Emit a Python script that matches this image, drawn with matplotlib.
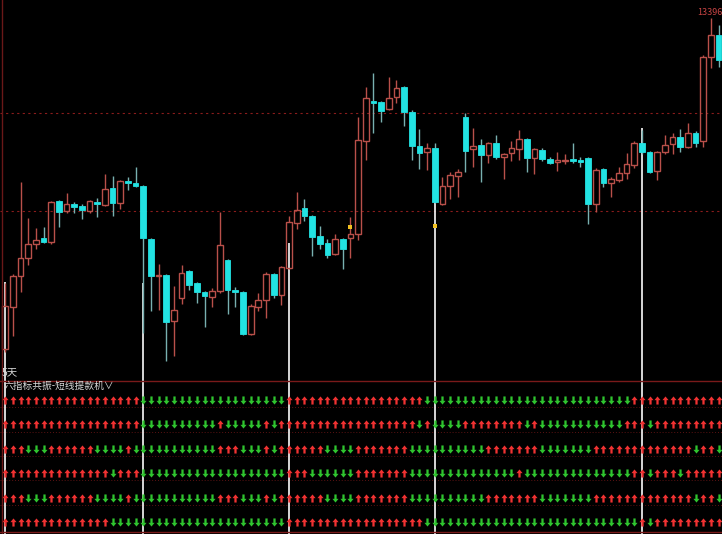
import matplotlib.pyplot as plt
import numpy as np
from matplotlib.path import Path
from matplotlib.lines import Line2D

plt.rcParams['font.family'] = ['Noto Sans CJK SC', 'DejaVu Sans']

# daily candles
opens = [13065, 13107, 13138, 13156, 13170, 13176, 13172, 13213, 13203, 13210,
         13208, 13203, 13212, 13209, 13226, 13211, 13233, 13231, 13228, 13175,
         13138, 13139, 13093, 13116, 13143, 13131, 13122, 13117, 13123, 13154,
         13124, 13122, 13080, 13107, 13114, 13140, 13119, 13146, 13191, 13206,
         13198, 13178, 13171, 13160, 13175, 13176, 13180, 13273, 13313, 13312,
         13305, 13317, 13327, 13302, 13268, 13262, 13266, 13210, 13228, 13238,
         13297, 13265, 13269, 13259, 13271, 13257, 13261, 13265, 13275, 13256,
         13264, 13255, 13252, 13253, 13255, 13254, 13256, 13210, 13245, 13231,
         13234, 13241, 13249, 13271, 13262, 13243, 13262, 13270, 13277, 13267,
         13281, 13273, 13357, 13379]
closes = [13108, 13138, 13156, 13170, 13174, 13172, 13212, 13202, 13210, 13207,
          13204, 13213, 13210, 13225, 13211, 13233, 13231, 13228, 13176, 13138,
          13139, 13092, 13104, 13141, 13129, 13122, 13118, 13123, 13169, 13124,
          13122, 13080, 13108, 13114, 13140, 13119, 13147, 13192, 13204, 13198,
          13177, 13170, 13159, 13175, 13165, 13180, 13274, 13316, 13311, 13303,
          13316, 13326, 13302, 13268, 13261, 13266, 13212, 13228, 13239, 13242,
          13263, 13268, 13259, 13271, 13257, 13260, 13266, 13275, 13256, 13265,
          13255, 13251, 13254, 13254, 13253, 13252, 13210, 13244, 13231, 13235,
          13241, 13250, 13271, 13262, 13242, 13262, 13269, 13277, 13267, 13281,
          13271, 13357, 13379, 13354]
highs = [13131, 13140, 13232, 13196, 13186, 13187, 13213, 13214, 13221, 13212,
         13210, 13214, 13216, 13240, 13238, 13234, 13237, 13247, 13229, 13176,
         13150, 13140, 13128, 13149, 13144, 13132, 13123, 13126, 13202, 13155,
         13127, 13123, 13110, 13121, 13142, 13141, 13148, 13198, 13222, 13215,
         13199, 13188, 13175, 13180, 13176, 13197, 13297, 13327, 13341, 13313,
         13337, 13334, 13328, 13304, 13285, 13271, 13271, 13237, 13242, 13245,
         13301, 13286, 13275, 13272, 13279, 13261, 13273, 13284, 13276, 13266,
         13266, 13257, 13262, 13260, 13271, 13257, 13257, 13246, 13246, 13237,
         13247, 13261, 13273, 13284, 13263, 13263, 13279, 13281, 13285, 13291,
         13283, 13359, 13396, 13389]
lows = [13062, 13078, 13122, 13149, 13165, 13171, 13170, 13187, 13201, 13201,
        13195, 13201, 13197, 13208, 13198, 13205, 13224, 13227, 13081, 13103,
        13104, 13053, 13058, 13110, 13124, 13111, 13087, 13107, 13121, 13100,
        13107, 13079, 13079, 13103, 13096, 13116, 13109, 13145, 13185, 13193,
        13158, 13165, 13156, 13159, 13145, 13156, 13174, 13254, 13281, 13292,
        13304, 13311, 13288, 13254, 13245, 13244, 13211, 13209, 13215, 13217,
        13242, 13247, 13232, 13251, 13255, 13235, 13253, 13254, 13242, 13240,
        13253, 13250, 13243, 13250, 13251, 13247, 13190, 13202, 13227, 13217,
        13232, 13235, 13246, 13260, 13241, 13234, 13260, 13260, 13262, 13266,
        13267, 13267, 13346, 13347]

grid_levels = [13301, 13203]
signal_idx = [0, 18, 37, 56, 83]
signal_price = [13132, 13131, 13171, 13242, 13286]
mark_idx = [45, 56]
mark_price = [13187, 13188]

# six indicator rows, U = red up arrow, D = green down arrow
rows = [
    "UUUUUUUUUU UUUUUUUUDD DDDDDDDDDD DDDDDDDUUU UUUUUUUUUU UUUUUDDDDD DDDDDDDDDD DDDDDDDDDD DDUUUUUUUU UUUU",
    "UUUUUUUUUU UUUUUUUUDD DDDDDDDDUD DDDDUDUUUU UUUUUUUUUU UUUUDUDDDD UUUUUUUUDU DDDDDDDDDD DUUUDUUUUU UUUU",
    "UUUDDDUUUU UUDDDDUDDD DDDDDDDDUU UDDDUDUUUU UUDDDDUUUU UUUDDDDDDD DDDUUUUUUU DDDDDDDUUU UUUUUUUUUU DUUD",
    "UUUUUUUUUU UUUUDUUUDD DDDDDDDDDD DDDDDDDUUU DDDDDDUUUU UUUDDDDDDD DDDDDDDUDD DDDDDDDDDD DDUUDUUUDU UUUU",
    "UUUDDDUUUU UUDDDDUDDD DDDDDDDDUU UDDDUDUUUU UUDDDDUUUU UUUDDDDDDD DDDUUUUUUU DDDDDDDUUU UUUUUUUUUU DUUD",
    "UUUUUUUUUU UUUUDDDDDD DDDDDDDDDD DDDDDDDUUU UUUUUUUUUU UUUUUDDDDD DDDDDDDDDD DDDDDDDDDD DDDUDUUUUU UUUU",
]

up_col = '#b9504a'
down_col = '#22e3e3'
down_wick = '#78b0b0'

o, c, h, l = map(np.array, (opens, closes, highs, lows))
n = len(o)
idx = np.arange(n)
up = c >= o
lo = np.minimum(o, c)
hi = np.maximum(o, c)
height = np.maximum(hi - lo, 0.8)

fig = plt.figure(figsize=(7.22, 5.34), dpi=100, facecolor='black')
ax = fig.add_axes([0, 153 / 534, 1, 381 / 534])
ax2 = fig.add_axes([0, 0, 1, 153 / 534])
for a in (ax, ax2):
    a.set_facecolor('black')
    a.set_xlim(-0.68, 93.45)
    a.axis('off')
ax.set_ylim(13033, 13414)
ax2.set_ylim(5.49, -0.78)

for g in grid_levels:
    ax.axhline(g, color='#8a1c1c', ls=(0, (2, 3)), lw=0.8, zorder=1)

# signal lines, running down through the lower panel
ax.vlines(signal_idx, 13033, signal_price, colors='#e8e8e8', lw=1.3, zorder=2)
for s in signal_idx:
    ax2.axvline(s, color='#e8e8e8', lw=1.3, zorder=2)

wick_cols = np.where(up, up_col, down_wick)
ax.vlines(idx, hi, h, colors=wick_cols, lw=1, zorder=3)
ax.vlines(idx, l, lo, colors=wick_cols, lw=1, zorder=3)
ax.bar(idx[up], height[up], 0.74, bottom=lo[up], facecolor='none',
       edgecolor=up_col, lw=1, zorder=4)
ax.bar(idx[~up], height[~up], 0.74, bottom=lo[~up], facecolor=down_col,
       edgecolor=down_col, lw=0.6, zorder=4)
ax.scatter(mark_idx, mark_price, s=5, c='#f0c020', marker='s', lw=0, zorder=5)

top = int(np.argmax(h))
ax.annotate(f"{h[top]:.0f}", (top, h[top]), xytext=(-1, 1), textcoords='offset points',
            ha='center', va='bottom', color='#c84444', fontsize=6.5)

# arrow markers
up_path = Path([(0, 0.5), (0.38, 0.04), (0.14, 0.04), (0.14, -0.5), (-0.14, -0.5),
                (-0.14, 0.04), (-0.38, 0.04), (0, 0.5)], closed=True)
down_path = Path([(x, -y) for x, y in up_path.vertices], closed=True)

for r, row in enumerate(rows):
    sig = np.array(list(row.replace(" ", "")))
    ax2.scatter(idx[sig == 'U'], np.full((sig == 'U').sum(), r), marker=up_path,
                s=34, c='#f03232', lw=0, zorder=3)
    ax2.scatter(idx[sig == 'D'], np.full((sig == 'D').sum(), r), marker=down_path,
                s=34, c='#2fc42f', lw=0, zorder=3)
    if r < 5:
        ax2.axhline(r + 0.29, color='#5c1212', ls=(0, (1, 2)), lw=0.7, zorder=1)

fig.text(2 / 722, 1 - 372 / 534, '5天', color='#d8d8d8', fontsize=7.5, va='center', ha='left')
fig.text(4 / 722, 1 - 386 / 534, '六指标共振-短线提款机∨', color='#d8d8d8', fontsize=7,
         va='center', ha='left')

fig.add_artist(Line2D([0, 1], [1 - 381 / 534] * 2, color='#7a1a1a', lw=1))
fig.add_artist(Line2D([0, 1], [1 - 531.5 / 534] * 2, color='#7a1a1a', lw=1))
fig.add_artist(Line2D([1.5 / 722] * 2, [0, 1], color='#6a1818', lw=1))

fig.savefig('out.png', dpi=100, facecolor='black')
